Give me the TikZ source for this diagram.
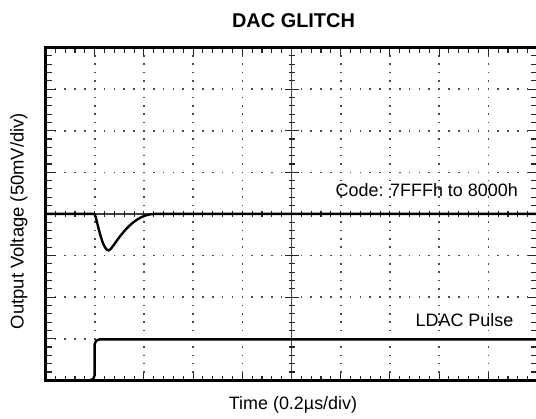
\documentclass[tikz,border=0pt]{standalone}
\usepackage{fontspec}
\setmainfont{Liberation Sans}
\begin{document}
\begin{tikzpicture}[x=1bp,y=-1bp,
  framec/.style={line width=2.2bp,black},
  tickc/.style={line width=1.1bp,black!85},
  dotc/.style={fill=black!70},
  axisc/.style={line width=1.2bp,black!75},
  sig/.style={line width=2.4bp,black,line cap=round,line join=round},
  lbl/.style={inner sep=0pt,font=\fontsize{18}{20}\selectfont},
]
\useasboundingbox (0,0) rectangle (536,418);
\clip (0,0) rectangle (536,418);
\def\xL{45.5}\def\xR{537.5}\def\yT{47.5}\def\yB{380.5}
\def\ddx{49.2}\def\ddy{41.6}
\def\xC{291.5}\def\yC{213.9}
% grid dots
\foreach \i in {1,2,3,4,6,7,8,9}
  \foreach \k in {1,...,39}
    \fill[dotc] ({\xL+\i*\ddx-0.8},{\yT+\k*\ddy/5-0.8}) rectangle ++(1.6,1.6);
\foreach \j in {1,2,3,5,6,7}
  \foreach \k in {1,...,49}
    \fill[dotc] ({\xL+\k*\ddx/5-0.8},{\yT+\j*\ddy-0.8}) rectangle ++(1.6,1.6);
% edge ticks
\foreach \k in {1,...,49}{
  \draw[tickc] ({\xL+\k*\ddx/5},\yT) -- ++(0,5);
  \draw[tickc] ({\xL+\k*\ddx/5},\yB) -- ++(0,-5);
}
\foreach \k in {5,10,...,45}{
  \draw[tickc] ({\xL+\k*\ddx/5},\yT) -- ++(0,8);
  \draw[tickc] ({\xL+\k*\ddx/5},\yB) -- ++(0,-8);
}
\foreach \k in {1,...,39}{
  \draw[tickc] (\xL,{\yT+\k*\ddy/5}) -- ++(6,0);
  \draw[tickc] (\xR,{\yT+\k*\ddy/5}) -- ++(-7,0);
}
\foreach \k in {5,10,...,35}{
  \draw[tickc] (\xL,{\yT+\k*\ddy/5}) -- ++(10,0);
  \draw[tickc] (\xR,{\yT+\k*\ddy/5}) -- ++(-10,0);
}
% centre axes
\draw[axisc] (\xC,\yT) -- (\xC,\yB);
\draw[axisc] (\xL,\yC) -- (\xR,\yC);
\foreach \k in {1,...,39}
  \draw[tickc] ({\xC-3},{\yT+\k*\ddy/5}) -- ++(6,0);
\foreach \k in {5,10,...,35}
  \draw[tickc] ({\xC-7},{\yT+\k*\ddy/5}) -- ++(14,0);
\foreach \k in {1,...,49}
  \draw[tickc] ({\xL+\k*\ddx/5},{\yC-3}) -- ++(0,6);
% frame
\draw[framec] (\xL,\yT) rectangle (\xR,\yB);
% glitch trace
\draw[sig] (\xL,\yC) -- (94.7,\yC)
  .. controls (97.5,222) and (102.5,250.5) .. (108.5,250.5)
  .. controls (113,250.5) and (128,214) .. (155,\yC) -- (\xR,\yC);
% LDAC trace
\draw[sig,rounded corners=5bp] (\xL,\yB) -- (94.6,\yB) -- (94.6,339.3) -- (\xR,339.3);
% labels
\node[lbl,anchor=base,font=\fontsize{20}{22}\selectfont\bfseries] (title) at (293.5,27.3) {DAC GLITCH};
\node[lbl,anchor=base east] (code) at (518,196) {Code: 7FFFh to 8000h};
\node[lbl,anchor=base east] (ldac) at (513.5,326.7) {LDAC Pulse};
\node[lbl,anchor=base] (xlab) at (293,409) {Time (0.2µs/div)};
\node[lbl,anchor=base,rotate=90,font=\fontsize{18.5}{20}\selectfont] (ylab) at (23.5,221) {Output Voltage (50mV/div)};
\end{tikzpicture}
\end{document}
